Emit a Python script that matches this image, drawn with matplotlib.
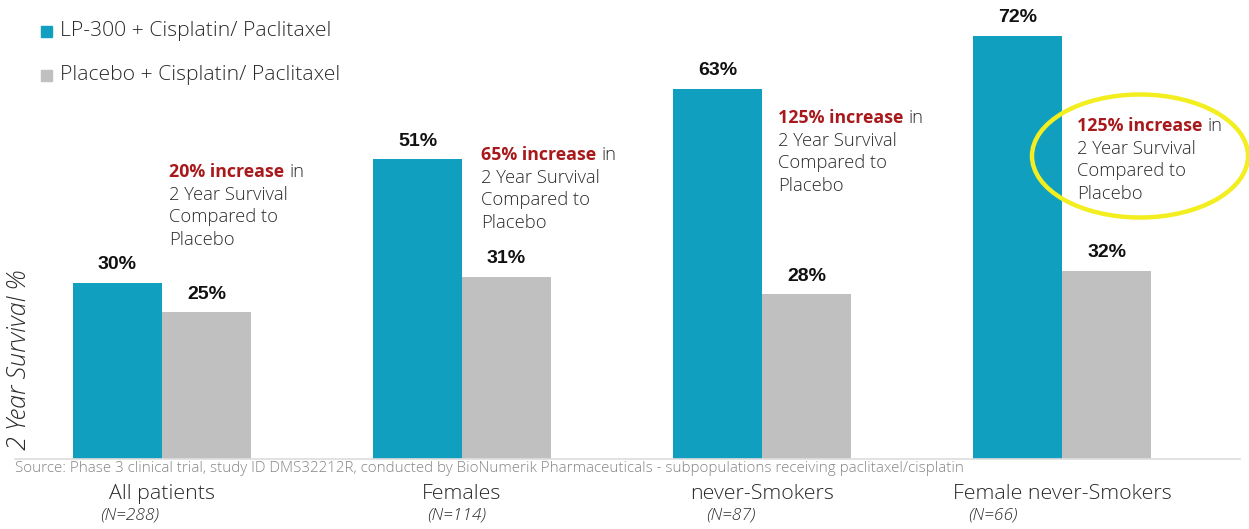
import matplotlib
matplotlib.use("Agg")
import matplotlib.pyplot as plt
from matplotlib.patches import Ellipse

# data
groups = ["All patients", "Females", "never-Smokers", "Female never-Smokers"]
n_labels = ["(N=288)", "(N=114)", "(N=87)", "(N=66)"]
lp300 = [30, 51, 63, 72]
placebo = [25, 31, 28, 32]
increase = ["20% increase", "65% increase", "125% increase", "125% increase"]
series_names = ["LP-300 + Cisplatin/ Paclitaxel", "Placebo + Cisplatin/ Paclitaxel"]

teal = "#119fbf"
grey = "#c0c0c0"
red = "#a8191c"
dark = "#2a2a2a"

W, H = 1249, 529
fig = plt.figure(figsize=(W / 100, H / 100), dpi=100)

def fx(px):
    return px / W

def fy(py):
    return 1 - py / H

# axes: baseline at y=459px, groups 300px apart
ax = fig.add_axes([fx(15), fy(459), fx(1240) - fx(15), fy(0) - fy(459)])
x = list(range(len(groups)))
bw = 0.297
b1 = ax.bar([i - bw / 2 for i in x], lp300, bw, color=teal, label=series_names[0])
b2 = ax.bar([i + bw / 2 for i in x], placebo, bw, color=grey, label=series_names[1])
ax.set_xlim((15 - 162) / 300, (1240 - 162) / 300)
ax.set_ylim(0, 459 / 5.88)
for s in ["top", "right", "left"]:
    ax.spines[s].set_visible(False)
ax.spines["bottom"].set_color("#dddddd")
ax.spines["bottom"].set_linewidth(1.2)
ax.set_xticks([])
ax.set_yticks([])

for bars in (b1, b2):
    for r in bars:
        ax.text(r.get_x() + r.get_width() / 2, r.get_height() + 1.6,
                "%d%%" % r.get_height(), ha="center", va="bottom",
                fontsize=14, fontweight="bold", family="Liberation Sans", color="#111111")

# legend drawn by hand
for k, (name, c) in enumerate(zip(series_names, [teal, grey])):
    yy = 31 + 44 * k
    fig.patches.append(plt.Rectangle((fx(41), fy(yy + 6)), fx(11), fy(yy - 5) - fy(yy + 6),
                                     transform=fig.transFigure, color=c))
    fig.text(fx(60), fy(yy), name, fontsize=15.2, family="Open Sans", fontweight=300,
             color=dark, va="center")

# annotations
note_pos = [(169, 172), (481, 155), (778, 118), (1077, 126)]
fig.canvas.draw()
rend = fig.canvas.get_renderer()
for (px, py), lab in zip(note_pos, increase):
    t = fig.text(fx(px), fy(py), lab, fontsize=12.8, family="Open Sans", fontweight="bold",
                 color=red, va="center")
    bb = t.get_window_extent(renderer=rend)
    fig.text(fx(bb.x1 + 5), fy(py), "in", fontsize=13.2, family="Open Sans", fontweight=300,
             color=dark, va="center")
    for k, line in enumerate(["2 Year Survival", "Compared to", "Placebo"]):
        fig.text(fx(px), fy(py + 22.7 * (k + 1)), line, fontsize=13.2, family="Open Sans",
                 fontweight=300, color=dark, va="center")

# highlight ellipse
fig.patches.append(Ellipse((fx(1140), fy(156)), fx(216), fy(95) - fy(218),
                           transform=fig.transFigure, fill=False, edgecolor="#f2ee1f", linewidth=3.2))

# y label
fig.text(fx(20), fy(360), "2 Year Survival %", rotation=90, fontsize=18, style="italic",
         family="Open Sans", fontweight=300, color=dark, ha="center", va="center")

# source + category labels
fig.text(fx(15), fy(469), "Source: Phase 3 clinical trial, study ID DMS32212R, conducted by BioNumerik "
         "Pharmaceuticals - subpopulations receiving paclitaxel/cisplatin",
         fontsize=10.9, family="Open Sans", fontweight=300, color="#858585", va="center")
n_x = [100, 427, 706, 968]
for i, (g, n) in enumerate(zip(groups, n_labels)):
    fig.text(fx(162 + 300 * i), fy(494), g, fontsize=15.4, family="Open Sans", fontweight=300,
             color=dark, ha="center", va="center")
    fig.text(fx(n_x[i]), fy(516), n, fontsize=12.5, family="Open Sans", style="italic",
             fontweight=300, color=dark, va="center")

fig.savefig("out.png", dpi=100)
